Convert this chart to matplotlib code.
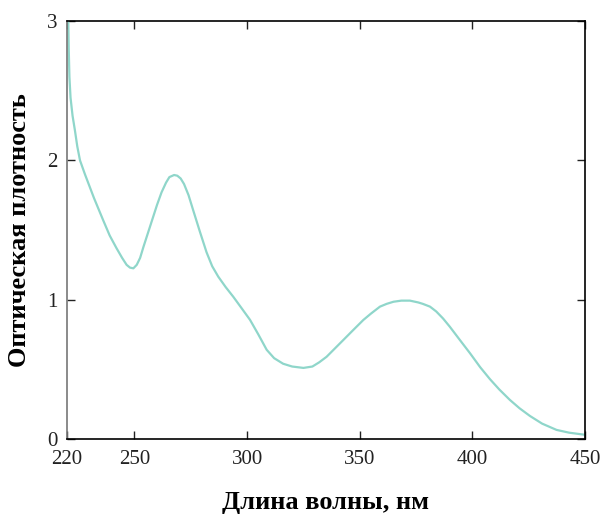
import matplotlib.pyplot as plt

# Спектр поглощения: длина волны (нм) и оптическая плотность
dlina_volny = [220.6, 220.8, 221.1, 221.6, 222.5, 223.5, 224.6, 225.8, 228, 232,
               236.1, 239, 242, 244.5, 246.5, 248, 249.5, 251, 252.5, 254,
               256, 258, 260, 262, 264, 265.5, 267.6, 269, 270.5, 272,
               274, 276.1, 279, 282, 284.5, 287.2, 290.5, 293.9, 297.5, 301.3,
               305, 308.7, 312, 316, 320, 325, 329, 332, 335.3, 339,
               342.7, 347, 351.6, 355, 359, 362, 365, 368.5, 372.3, 376,
               378, 381.2, 384, 387, 390, 394.5, 399, 403.5, 407.8, 412,
               416.7, 421, 425.6, 431, 437.4, 443, 450]
opt_plotnost = [3.0, 2.8, 2.6, 2.45, 2.32, 2.22, 2.1, 2.0, 1.9, 1.73,
                1.57, 1.46, 1.37, 1.3, 1.25, 1.23, 1.225, 1.25, 1.3, 1.38,
                1.48, 1.58, 1.68, 1.77, 1.84, 1.88, 1.895, 1.89, 1.87, 1.83,
                1.75, 1.64, 1.49, 1.34, 1.24, 1.165, 1.09, 1.02, 0.94, 0.855,
                0.75, 0.64, 0.58, 0.54, 0.52, 0.51, 0.52, 0.55, 0.59, 0.65,
                0.71, 0.78, 0.854, 0.9, 0.95, 0.97, 0.985, 0.993, 0.993, 0.98,
                0.97, 0.95, 0.915, 0.865, 0.806, 0.71, 0.615, 0.515, 0.43, 0.355,
                0.28, 0.22, 0.165, 0.11, 0.065, 0.045, 0.03]

x_ticks = [220, 250, 300, 350, 400, 450]
y_ticks = [0, 1, 2, 3]

plt.rcParams['font.family'] = ['Liberation Serif', 'DejaVu Serif']

fig = plt.figure(figsize=(6.03, 5.14), dpi=100)
ax = fig.add_axes([0.111, 0.146, 0.859, 0.813])

ax.plot(dlina_volny, opt_plotnost, color='#8fd6ca', linewidth=1.6,
        solid_joinstyle='round')

ax.set_xlim(220, 450)
ax.set_ylim(0, 3)
ax.set_xticks(x_ticks)
ax.set_yticks(y_ticks)
ax.tick_params(direction='in', top=True, right=True, length=6, width=1,
               labelsize=15, colors='#222222')
ax.tick_params(axis='x', pad=8)
ax.tick_params(axis='y', pad=7)

for s in ['top', 'right', 'bottom']:
    ax.spines[s].set_color('black')
ax.spines['left'].set_color('#777777')
for s in ax.spines.values():
    s.set_linewidth(1.2)

ax.set_xlabel('Длина волны, нм', fontsize=19, fontweight='bold', labelpad=16)
ax.set_ylabel('Оптическая плотность', fontsize=19, fontweight='bold', labelpad=11)

plt.savefig('out.png', dpi=100)
